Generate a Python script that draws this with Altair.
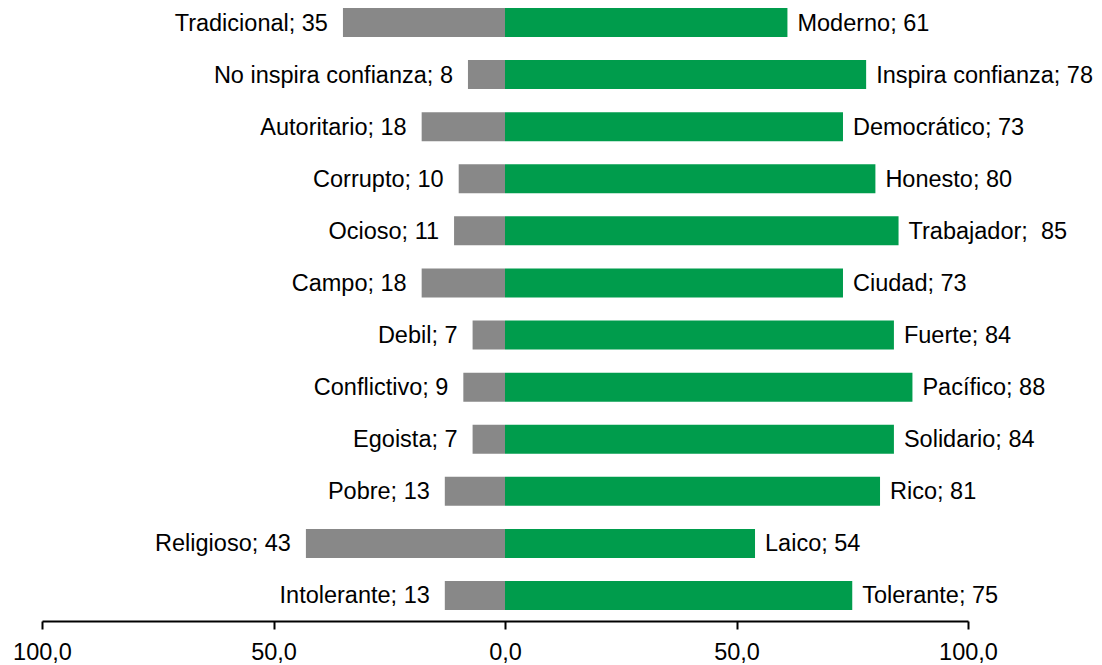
import altair as alt
import pandas as pd

# Data (top to bottom)
left_names = ["Tradicional", "No inspira confianza", "Autoritario", "Corrupto", "Ocioso",
              "Campo", "Debil", "Conflictivo", "Egoista", "Pobre", "Religioso", "Intolerante"]
left_values = [35, 8, 18, 10, 11, 18, 7, 9, 7, 13, 43, 13]
right_names = ["Moderno", "Inspira confianza", "Democrático", "Honesto", "Trabajador",
               "Ciudad", "Fuerte", "Pacífico", "Solidario", "Rico", "Laico", "Tolerante"]
right_values = [61, 78, 73, 80, 85, 73, 84, 88, 84, 81, 54, 75]
tick_values = [-100, -50, 0, 50, 100]

rows = []
for i, (ln, lv, rn, rv) in enumerate(zip(left_names, left_values, right_names, right_values)):
    rows.append({"row": i, "side": "neg", "v": -lv, "label": f"{ln}; {lv}"})
    sep = ";\u00a0 " if rn == "Trabajador" else "; "
    rows.append({"row": i, "side": "pos", "v": rv, "label": f"{rn}{sep}{rv}"})
df = pd.DataFrame(rows)

FONT = "Liberation Sans"
FS = 23.5

x_enc = alt.X(
    "v:Q",
    title=None,
    scale=alt.Scale(domain=[-100, 100], nice=False, zero=False),
    axis=alt.Axis(
        values=tick_values,
        labelExpr="replace(format(abs(datum.value), '.1f'), '.', ',')",
        grid=False,
        offset=11,
        domainColor="black",
        domainWidth=2,
        tickColor="black",
        tickWidth=2,
        tickSize=8,
        labelFont=FONT,
        labelFontSize=FS,
        labelColor="black",
        labelPadding=11,
        labelFlush=False,
        labelOverlap=False,
    ),
)
y_enc = alt.Y("row:O", axis=None, scale=alt.Scale(paddingInner=0.443, paddingOuter=0))

base = alt.Chart(df)

bars = base.mark_bar().encode(
    x=x_enc,
    x2=alt.datum(0),
    y=y_enc,
    color=alt.Color("side:N", scale=alt.Scale(domain=["neg", "pos"], range=["#888888", "#009C4C"]),
                    legend=None),
)

left_text = base.transform_filter(alt.datum.side == "neg").mark_text(
    align="right", baseline="middle", dx=-15, dy=1, font=FONT, fontSize=FS, color="black"
).encode(x=x_enc, y=y_enc, text="label:N")

right_text = base.transform_filter(alt.datum.side == "pos").mark_text(
    align="left", baseline="middle", dx=10, dy=1, font=FONT, fontSize=FS, color="black"
).encode(x=x_enc, y=y_enc, text="label:N")

chart = alt.layer(bars, left_text, right_text).properties(
    width=926,
    height=602,
    autosize=alt.AutoSizeParams(type="none"),
    padding={"left": 34, "top": 0, "right": 126, "bottom": 55},
    background="white",
).configure_view(stroke=None)

chart.save("out.html", embed_options={"renderer": "svg", "actions": False})
